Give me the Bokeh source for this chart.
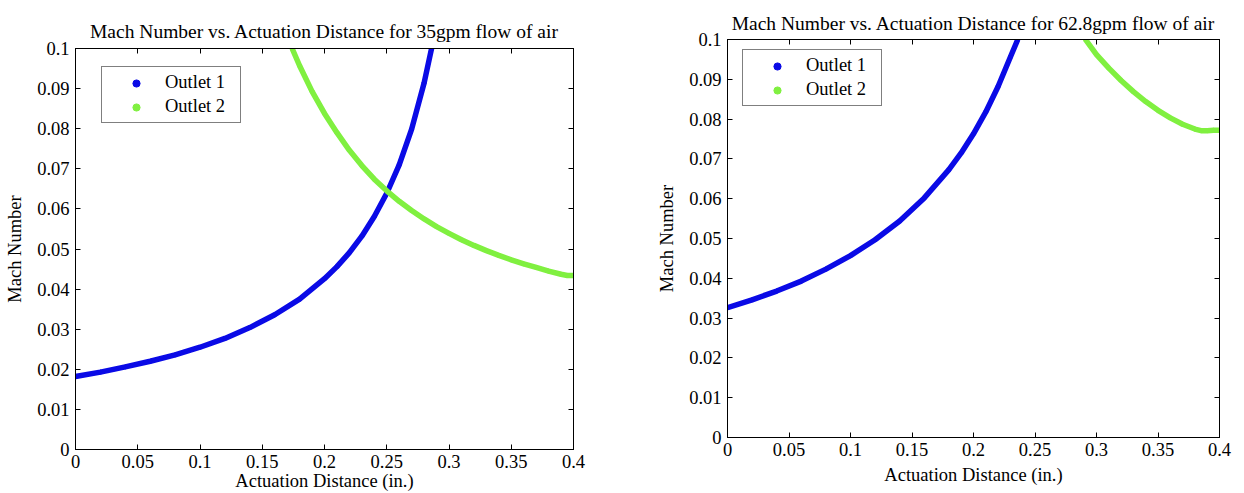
from bokeh.plotting import figure
from bokeh.models import (Range1d, LinearAxis, FixedTicker, CustomJSTickFormatter,
                          Legend, LegendItem)
from bokeh.layouts import row, column
from bokeh.embed import file_html
from bokeh.resources import INLINE

# ---------------- data ----------------
# Left chart: 35 gpm
left_o1_x = [0.0, 0.02, 0.04, 0.06, 0.08, 0.10, 0.12, 0.14, 0.16, 0.18, 0.20,
             0.21, 0.22, 0.23, 0.24, 0.25, 0.26, 0.27, 0.28, 0.286]
left_o1_y = [0.0182, 0.0193, 0.0206, 0.0220, 0.0236, 0.0255, 0.0277, 0.0304, 0.0336,
             0.0375, 0.0426, 0.0456, 0.0491, 0.0532, 0.0581, 0.0639, 0.0710, 0.0799,
             0.0914, 0.1]
left_o2_x = [0.174, 0.18, 0.19, 0.20, 0.21, 0.22, 0.23, 0.24, 0.25, 0.26, 0.27, 0.28,
             0.29, 0.30, 0.31, 0.32, 0.33, 0.34, 0.35, 0.36, 0.37, 0.38, 0.39, 0.395, 0.40]
left_o2_y = [0.1, 0.0957, 0.0893, 0.0838, 0.0790, 0.0746, 0.0708, 0.0674, 0.0645,
             0.0619, 0.0596, 0.0575, 0.0556, 0.0539, 0.0523, 0.0509, 0.0496, 0.0484,
             0.0473, 0.0463, 0.0454, 0.0445, 0.0437, 0.0434, 0.0434]

# Right chart: 62.8 gpm
right_o1_x = [0.0, 0.02, 0.04, 0.06, 0.08, 0.10, 0.12, 0.14, 0.16, 0.18, 0.19,
              0.20, 0.21, 0.22, 0.23, 0.236]
right_o1_y = [0.0326, 0.0346, 0.0368, 0.0393, 0.0423, 0.0457, 0.0497, 0.0544, 0.0602,
              0.0673, 0.0715, 0.0763, 0.0818, 0.0882, 0.0956, 0.1]
right_o2_x = [0.291, 0.30, 0.31, 0.32, 0.33, 0.34, 0.35, 0.36, 0.37, 0.38, 0.385,
              0.39, 0.395, 0.40]
right_o2_y = [0.1, 0.0962, 0.0928, 0.0897, 0.0869, 0.0844, 0.0822, 0.0803, 0.0787,
              0.0775, 0.0771, 0.0771, 0.0772, 0.0772]

x_ticks = [0, 0.05, 0.1, 0.15, 0.2, 0.25, 0.3, 0.35, 0.4]
y_ticks = [0, 0.01, 0.02, 0.03, 0.04, 0.05, 0.06, 0.07, 0.08, 0.09, 0.1]
series_names = ["Outlet 1", "Outlet 2"]
titles = ["Mach Number vs. Actuation Distance for 35gpm flow of air",
          "Mach Number vs. Actuation Distance for 62.8gpm flow of air"]
x_label = "Actuation Distance (in.)"
y_label = "Mach Number"

BLUE = "#0a0ae6"
GREEN = "#80f040"
FONT = "Liberation Serif"
FS = "18.5px"
TFS = "19.5px"

fmt_code = "return String(Math.round(tick*1000)/1000);"


def style_axis(ax):
    ax.axis_line_color = "black"
    ax.axis_line_width = 1
    ax.major_tick_in = 5
    ax.major_tick_out = 0
    ax.minor_tick_line_color = None
    ax.major_tick_line_color = "black"
    ax.major_label_text_font = FONT
    ax.major_label_text_font_size = FS
    ax.major_label_text_color = "black"
    ax.axis_label_text_font = FONT
    ax.axis_label_text_font_size = FS
    ax.axis_label_text_font_style = "normal"
    ax.axis_label_text_color = "black"


def make_plot(title, o1x, o1y, o2x, o2y, fw, fh, bl, br, bt, bb, xl_standoff,
              title_standoff, leg_x, leg_y):
    p = figure(frame_width=fw, frame_height=fh, output_backend="svg",
               toolbar_location=None, x_range=Range1d(0, 0.4), y_range=Range1d(0, 0.1),
               min_border_left=bl, min_border_right=br, min_border_top=bt,
               min_border_bottom=bb, title=title)
    p.title.align = "center"
    p.title.text_font = FONT
    p.title.text_font_size = TFS
    p.title.text_font_style = "normal"
    p.title.text_color = "black"
    p.title.standoff = title_standoff
    p.grid.visible = False
    p.outline_line_color = "black"
    p.background_fill_color = "white"
    p.border_fill_color = "white"

    # mirrored axes (top and right) carrying inward ticks only
    top_ax = LinearAxis()
    right_ax = LinearAxis()
    p.add_layout(top_ax, "above")
    p.add_layout(right_ax, "right")

    for ax in p.xaxis:
        style_axis(ax)
        ax.ticker = FixedTicker(ticks=x_ticks)
        ax.formatter = CustomJSTickFormatter(code=fmt_code)
    for ax in p.yaxis:
        style_axis(ax)
        ax.ticker = FixedTicker(ticks=y_ticks)
        ax.formatter = CustomJSTickFormatter(code=fmt_code)
    for ax in (top_ax, right_ax):
        ax.formatter = CustomJSTickFormatter(code="return '';")
        ax.major_label_text_font_size = "0px"
        ax.major_label_standoff = 0
    p.below[0].axis_label = x_label
    p.below[0].axis_label_standoff = xl_standoff
    p.below[0].major_label_standoff = 5
    p.left[0].axis_label = y_label
    p.left[0].axis_label_standoff = 9
    p.left[0].major_label_standoff = 6

    p.line(o1x, o1y, line_color=BLUE, line_width=5.5)
    r1 = p.scatter(o1x, o1y, size=4, color=BLUE)
    p.line(o2x, o2y, line_color=GREEN, line_width=5.5)
    r2 = p.scatter(o2x, o2y, size=4, color=GREEN)

    legend = Legend(items=[LegendItem(label=series_names[0], renderers=[r1]),
                           LegendItem(label=series_names[1], renderers=[r2])],
                    location=(leg_x, leg_y), margin=0, padding=5, spacing=3,
                    glyph_width=58, glyph_height=18, label_height=18, label_width=70,
                    label_standoff=0, label_text_font=FONT, label_text_font_size=FS,
                    label_text_color="black", border_line_color="black",
                    border_line_width=1, background_fill_color="white",
                    background_fill_alpha=1.0)
    p.add_layout(legend, "center")
    return p


# left: frame 498 x 401 at page (75, 48); right: frame 492 x 398 at page (727, 39)
p1 = make_plot(titles[0], left_o1_x, left_o1_y, left_o2_x, left_o2_y,
               498, 401, 75, 47, 48, 44, 0, 14, 26, 326)
p2 = make_plot(titles[1], right_o1_x, right_o1_y, right_o2_x, right_o2_y,
               492, 398, 107, 20, 39, 50, 6, 12, 15, 331)

# each figure wrapped in its own column so that their frames are not aligned
layout = row(column(p1), column(p2), spacing=0)
open("out.html", "w").write(file_html(layout, INLINE))
